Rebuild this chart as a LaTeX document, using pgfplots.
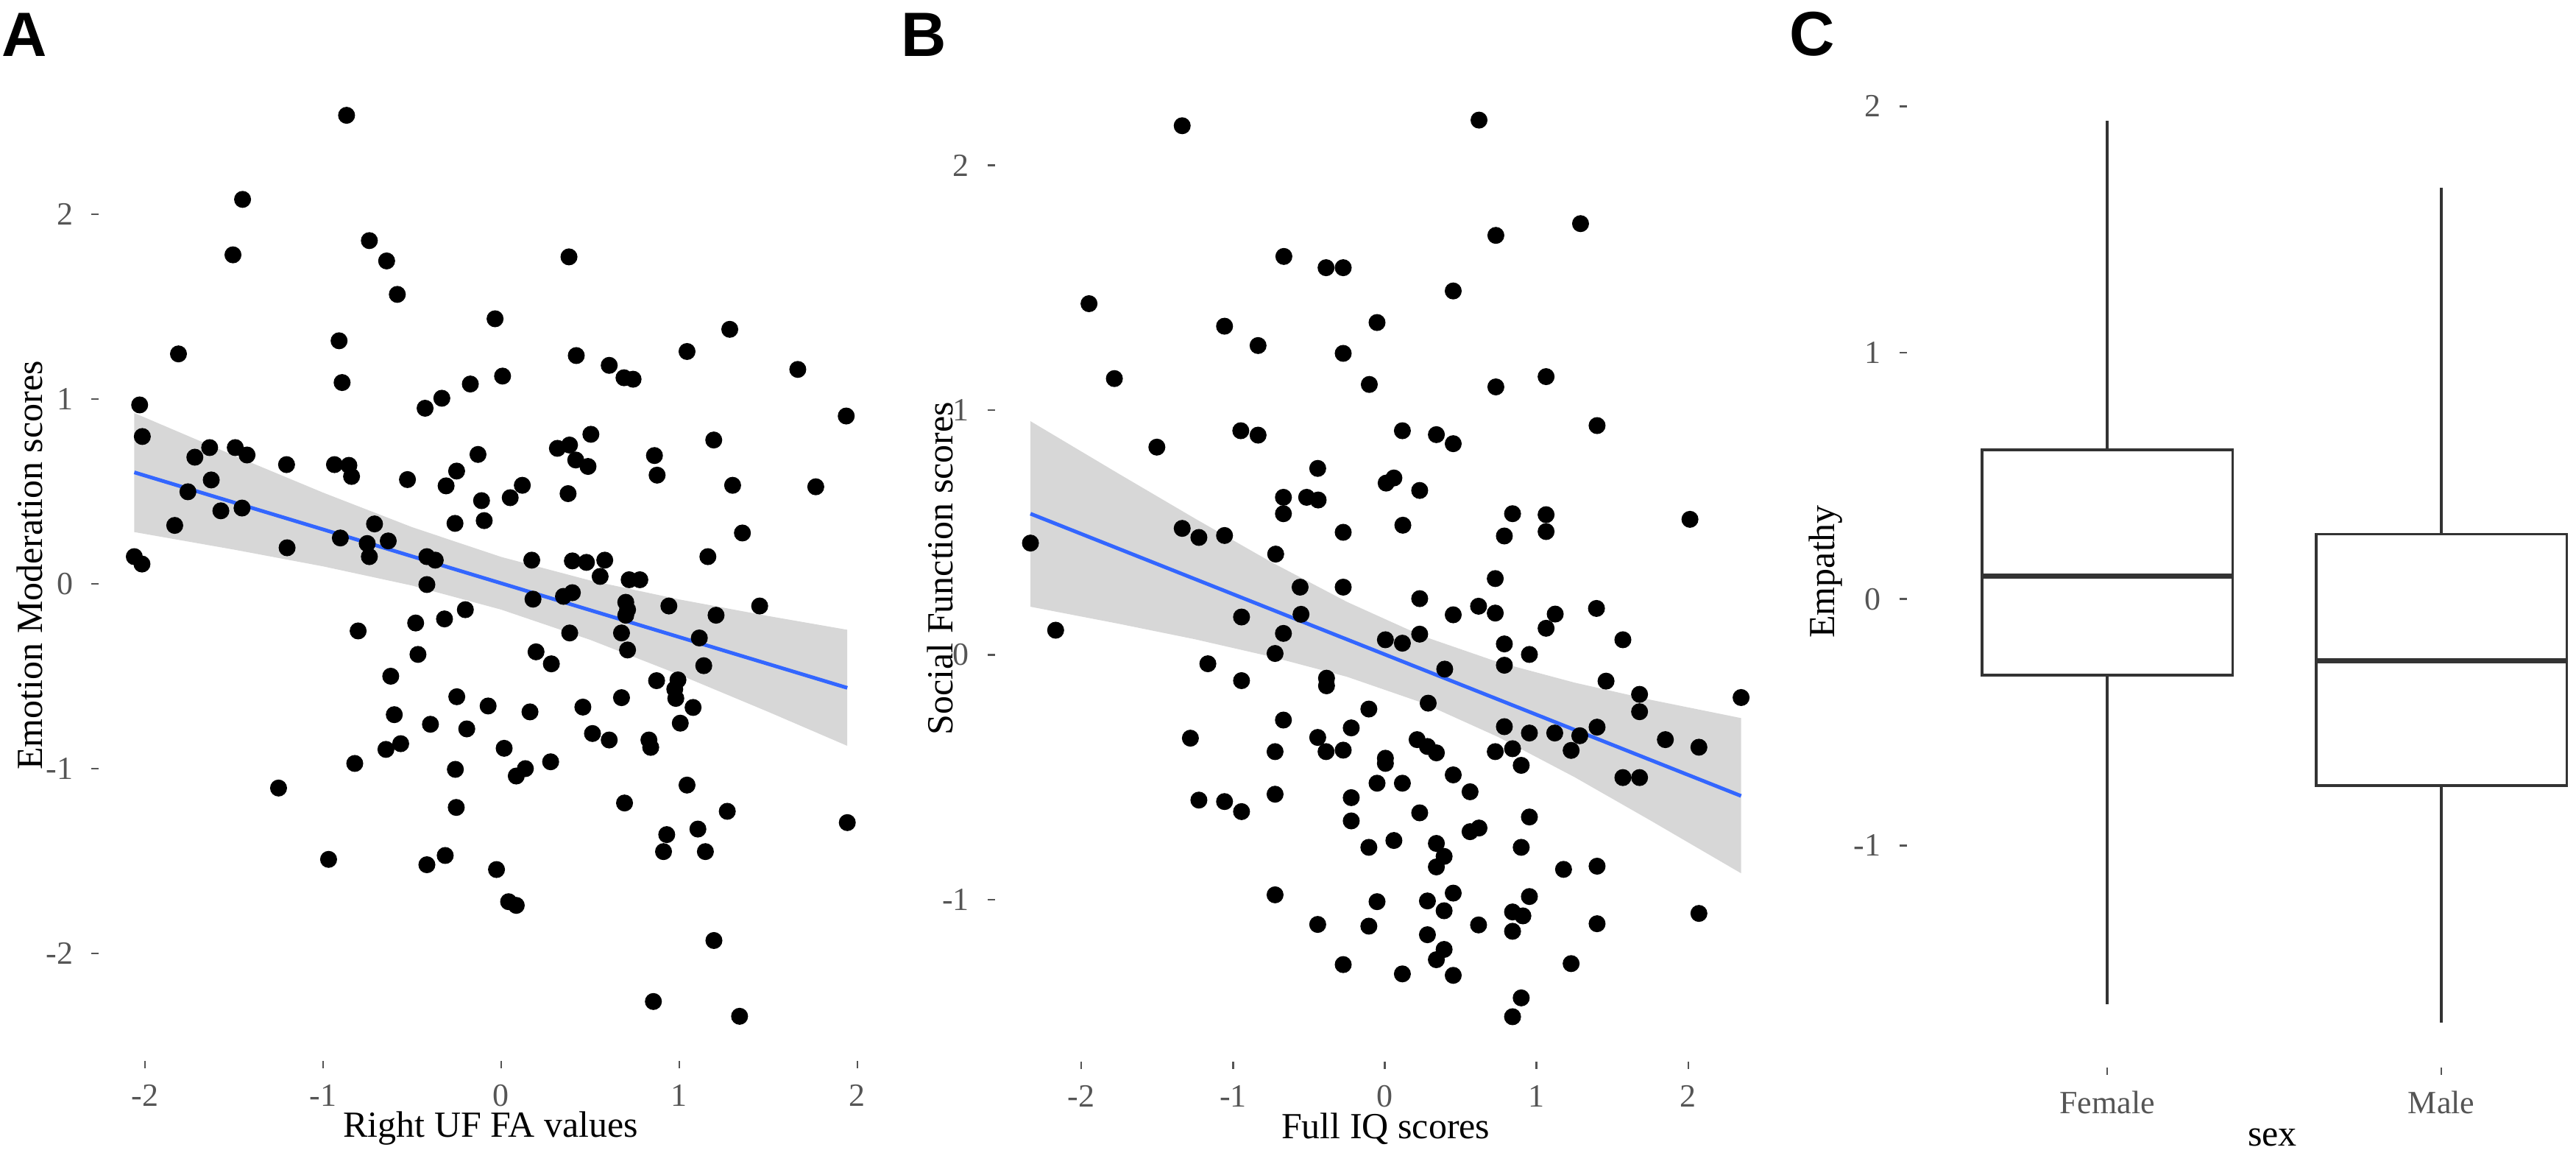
\documentclass[border=0pt]{standalone}
\usepackage{fontspec}
\setmainfont{Liberation Serif}
\newfontfamily\panelfont{Liberation Sans}
\usepackage{pgfplots}
\pgfplotsset{compat=1.18}
\usepgfplotslibrary{statistics}
\definecolor{smoothblue}{HTML}{3366FF}
\definecolor{sefill}{HTML}{D7D7D7}
\definecolor{tickgray}{HTML}{555555}
\definecolor{boxgray}{HTML}{333333}
\pgfplotsset{
  panel/.style={
    scale only axis, anchor=south west,
    axis lines*=left,
    axis line style={draw=none},
    tick align=outside,
    major tick length=2pt,
    tick style={draw=tickgray, line width=0.5pt},
    tick label style={font=\fontsize{8.8}{10}\selectfont, text=tickgray},
    xticklabel style={anchor=north, inner sep=0pt, yshift=-4.3pt},
    yticklabel style={anchor=east, inner sep=0pt, xshift=-4.8pt},
    label style={font=\fontsize{10}{12}\selectfont},
    xlabel style={anchor=base},
    ylabel style={anchor=center},
  },
  dots/.style={only marks, mark=*, mark size=2.1pt, black},
}
\begin{document}
\begin{tikzpicture}
\useasboundingbox (0,0) rectangle (700pt,316pt);
% ---------------- Panel A ----------------
\begin{axis}[panel, at={(26.82pt,27.88pt)}, width=213.1pt, height=269.1pt,
  xmin=-2.26, xmax=2.144, ymin=-2.58, ymax=2.78,
  xtick={-2,-1,0,1,2}, xticklabels={-2,-1,0,1,2},
  ytick={-2,-1,0,1,2}, yticklabels={-2,-1,0,1,2},
  xlabel={Right UF FA values}, ylabel={Emotion Moderation scores},
  xlabel style={at={(axis description cs:0.5,-0.0775)}},
  ylabel style={at={(axis description cs:-0.0883,0.5)}}]
\addplot[fill=sefill, draw=none] coordinates {
(-2.06,0.924) (-1.5,0.694) (-1,0.4935) (-0.5,0.3065) (0,0.1455) (0.5,0.018) (1,-0.0845) (1.5,-0.1743) (1.944,-0.2487)
(1.944,-0.8767) (1.5,-0.6927) (1,-0.4915) (0.5,-0.303) (0,-0.1395) (-0.5,-0.0095) (-1,0.0945) (-1.5,0.185) (-2.06,0.280)};
\addplot[smoothblue, line width=1pt] coordinates {(-2.06,0.603) (1.944,-0.563)};
\addplot[dots] coordinates {
(-0.868,2.535) (-1.452,2.08) (-1.506,1.78) (-0.74,1.857) (-0.643,1.747) (-0.583,1.566)
(-0.034,1.434) (-0.91,1.315) (-1.812,1.244) (-0.893,1.089) (0.008,1.124) (-0.173,1.081)
(-0.333,1.004) (-0.427,0.95) (-2.03,0.968) (-2.015,0.797) (-1.637,0.737) (-1.72,0.685)
(-1.493,0.737) (-1.427,0.697) (-1.205,0.645) (-0.936,0.645) (-0.855,0.641) (-0.84,0.581)
(-0.526,0.564) (-0.13,0.70) (-0.25,0.61) (-0.309,0.53) (0.051,0.466) (-0.11,0.45)
(-0.095,0.342) (-0.259,0.327) (-1.628,0.562) (-1.759,0.498) (-1.574,0.395) (-1.455,0.41)
(-1.833,0.316) (-1.202,0.195) (-0.903,0.248) (-0.711,0.324) (-0.752,0.218) (-0.634,0.232)
(-0.74,0.147) (-0.417,0.147) (-0.37,0.128) (-2.06,0.147) (-2.017,0.107) (-0.417,-0.004)
(0.381,1.769) (1.284,1.377) (1.044,1.257) (0.422,1.235) (0.607,1.182) (0.69,1.115)
(0.741,1.107) (1.666,1.16) (1.938,0.908) (0.504,0.809) (1.194,0.778) (0.316,0.733)
(0.384,0.751) (0.419,0.67) (0.488,0.635) (0.861,0.694) (0.876,0.588) (0.119,0.533)
(0.376,0.488) (1.30,0.533) (1.767,0.525) (1.355,0.275) (1.161,0.147) (0.172,0.128)
(0.40,0.124) (0.479,0.116) (0.582,0.128) (0.556,0.04) (0.719,0.022) (0.779,0.022)
(-0.201,-0.14) (-0.318,-0.19) (0.179,-0.083) (0.35,-0.068) (0.40,-0.048) (0.70,-0.10)
(0.71,-0.14) (0.70,-0.17) (0.942,-0.12) (1.207,-0.17) (1.452,-0.12) (1.113,-0.293)
(0.385,-0.266) (0.676,-0.266) (0.71,-0.358) (0.196,-0.368) (0.282,-0.433) (1.138,-0.443)
(0.873,-0.524) (0.993,-0.52) (0.975,-0.57) (0.981,-0.62) (1.078,-0.669) (1.006,-0.754)
(-0.249,-0.611) (-0.073,-0.661) (0.162,-0.693) (0.459,-0.667) (0.676,-0.616) (-0.193,-0.785)
(0.513,-0.81) (0.607,-0.845) (0.83,-0.845) (0.84,-0.885) (0.017,-0.89) (-0.257,-1.004)
(0.085,-1.04) (0.136,-1.0) (0.278,-0.963) (-0.252,-1.21) (1.044,-1.089) (0.693,-1.186)
(1.27,-1.231) (1.944,-1.292) (1.105,-1.327) (0.93,-1.357) (0.912,-1.449) (1.147,-1.449)
(-0.314,-1.47) (-0.026,-1.546) (0.042,-1.72) (0.085,-1.74) (1.195,-1.93) (0.855,-2.26)
(1.339,-2.34)
(-0.48,-0.212) (-0.803,-0.255) (-0.467,-0.382) (-0.62,-0.50) (-0.60,-0.708) (-0.397,-0.76)
(-0.647,-0.896) (-0.564,-0.865) (-0.822,-0.972) (-1.25,-1.105) (-0.969,-1.491) (-0.417,-1.52)
};
\end{axis}
% ---------------- Panel B ----------------
\begin{axis}[panel, at={(270.36pt,27.64pt)}, width=212.4pt, height=267.9pt,
  xmin=-2.569, xmax=2.582, ymin=-1.661, ymax=2.368,
  xtick={-2,-1,0,1,2}, xticklabels={-2,-1,0,1,2},
  ytick={-1,0,1,2}, yticklabels={-1,0,1,2},
  xlabel={Full IQ scores}, ylabel={Social Function scores},
  xlabel style={at={(axis description cs:0.5,-0.0782)}},
  ylabel style={at={(axis description cs:-0.0704,0.5)}}]
\addplot[fill=sefill, draw=none] coordinates {
(-2.335,0.955) (-1.75,0.739) (-1.25,0.557) (-0.75,0.380) (-0.25,0.217) (0.25,0.077) (0.75,-0.030) (1.25,-0.113) (1.75,-0.183) (2.348,-0.258)
(2.348,-0.892) (1.75,-0.676) (1.25,-0.499) (0.75,-0.336) (0.25,-0.196) (-0.25,-0.089) (-0.75,-0.007) (-1.25,0.064) (-1.75,0.127) (-2.335,0.197)};
\addplot[smoothblue, line width=1pt] coordinates {(-2.335,0.577) (2.348,-0.576)};
\addplot[dots] coordinates {
(-1.335,2.162) (-0.665,1.628) (-0.387,1.582) (-0.274,1.582) (-1.949,1.435) (-1.056,1.343)
(-0.835,1.264) (-0.274,1.232) (-1.782,1.129) (-0.949,0.916) (-0.835,0.898) (-1.502,0.849)
(0.621,2.185) (1.29,1.762) (0.732,1.714) (0.451,1.487) (-0.051,1.358) (-0.102,1.105)
(0.732,1.095) (1.063,1.137) (1.399,0.937) (0.116,0.916) (0.34,0.9) (0.451,0.863)
(-0.442,0.762) (-0.668,0.644) (-0.668,0.577) (-0.515,0.644) (-0.439,0.633) (-0.274,0.501)
(-2.335,0.457) (-1.335,0.517) (-1.225,0.48) (-1.056,0.488) (-0.719,0.412) (-0.558,0.277)
(-0.274,0.277) (-0.552,0.166) (-0.944,0.155) (-0.668,0.088) (-2.169,0.101) (-0.723,0.006)
(-1.166,-0.036) (-0.944,-0.105) (-0.384,-0.095) (-0.384,-0.126) (-0.668,-0.266) (-0.221,-0.298)
(-1.281,-0.34) (-0.442,-0.337) (-0.387,-0.395) (-0.274,-0.389) (-0.723,-0.395) (-1.225,-0.593)
(-1.056,-0.599) (-0.944,-0.64) (-0.723,-0.569) (-0.221,-0.583) (-0.221,-0.678)
(-0.723,-0.98) (-0.442,-1.101) (-0.274,-1.265)
(0.009,0.702) (0.06,0.723) (0.23,0.672) (0.119,0.53) (0.842,0.577) (1.063,0.573)
(1.063,0.504) (0.788,0.486) (2.011,0.554) (0.728,0.312) (0.23,0.23) (0.451,0.164)
(0.618,0.199) (0.728,0.171) (1.395,0.19) (1.123,0.167) (1.063,0.109) (1.569,0.062)
(0.004,0.062) (0.116,0.048) (0.23,0.085) (0.788,0.045) (0.953,0.002) (0.788,-0.042)
(0.395,-0.058) (1.458,-0.107) (1.679,-0.161) (1.679,-0.232) (2.348,-0.174) (0.286,-0.197)
(-0.105,-0.221) (0.788,-0.293) (0.953,-0.319) (1.12,-0.319) (1.285,-0.33) (1.399,-0.295)
(1.228,-0.39) (1.849,-0.346) (2.07,-0.377) (0.213,-0.346) (0.281,-0.374) (0.34,-0.40)
(0.728,-0.395) (0.842,-0.383) (0.899,-0.451) (0.004,-0.422) (0.004,-0.443) (1.569,-0.501)
(1.679,-0.501) (-0.051,-0.524) (0.116,-0.524) (0.451,-0.49) (0.562,-0.559) (0.23,-0.645)
(0.953,-0.662) (0.562,-0.722) (0.621,-0.707)
(-0.105,-0.786) (0.06,-0.758) (0.34,-0.77) (0.391,-0.823) (0.34,-0.866) (0.899,-0.786)
(1.178,-0.876) (1.399,-0.863) (-0.051,-1.008) (-0.105,-1.108) (0.281,-1.005) (0.451,-0.973)
(0.391,-1.045) (0.618,-1.103) (0.953,-0.987) (0.842,-1.05) (0.91,-1.066) (0.842,-1.129)
(1.399,-1.098) (2.07,-1.056) (0.281,-1.143) (0.391,-1.203) (0.34,-1.245) (0.116,-1.303)
(0.451,-1.309) (1.228,-1.261) (0.899,-1.401) (0.842,-1.478)
};
\end{axis}
% ---------------- Panel C ----------------
\begin{axis}[panel, at={(518.12pt,26.04pt)}, width=181.88pt, height=269.4pt,
  xmin=0.4, xmax=2.403, ymin=-1.901, ymax=2.124,
  xtick={1,2}, xticklabels={Female,Male},
  ytick={-1,0,1,2}, yticklabels={-1,0,1,2},
  xlabel={sex}, ylabel={Empathy},
  boxplot/draw direction=y,
  xlabel style={at={(axis description cs:0.5464,-0.0790)}},
  ylabel style={at={(axis description cs:-0.1215,0.5)}}]
\addplot[boxgray, line width=0.7pt, fill=white,
  boxplot prepared={draw position=1, lower whisker=-1.646, lower quartile=-0.309,
    median=0.094, upper quartile=0.605, upper whisker=1.941,
    box extend=0.75, whisker extend=0, every median/.style={line width=1.4pt}}]
  coordinates {};
\addplot[boxgray, line width=0.7pt, fill=white,
  boxplot prepared={draw position=2, lower whisker=-1.718, lower quartile=-0.757,
    median=-0.250, upper quartile=0.263, upper whisker=1.670,
    box extend=0.75, whisker extend=0, every median/.style={line width=1.4pt}}]
  coordinates {};
\end{axis}
% ---------------- Panel letters ----------------
\node[anchor=base west, inner sep=0pt, font=\panelfont\bfseries\fontsize{17}{18}\selectfont] at (0.2pt,300.6pt) {A};
\node[anchor=base west, inner sep=0pt, font=\panelfont\bfseries\fontsize{17}{18}\selectfont] at (244.6pt,300.6pt) {B};
\node[anchor=base west, inner sep=0pt, font=\panelfont\bfseries\fontsize{17}{18}\selectfont] at (486pt,300.8pt) {C};
\end{tikzpicture}
\end{document}
